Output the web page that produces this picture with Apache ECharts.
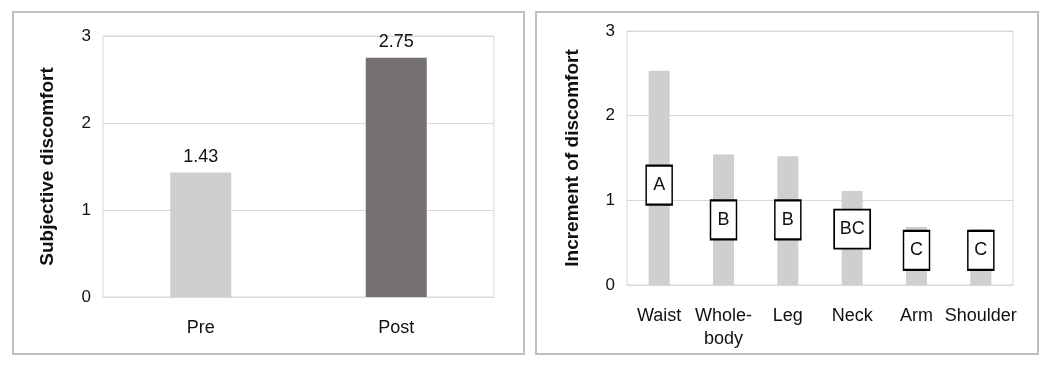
<!DOCTYPE html>
<html>
<head>
<meta charset="utf-8">
<script src="https://cdn.jsdelivr.net/npm/echarts@6/dist/echarts.min.js"></script>
<style>
html,body{margin:0;padding:0;background:#fff;}
#chart{width:1053px;height:365px;}
</style>
</head>
<body>
<div id="chart"></div>
<script>
// Left panel data
const leftCategories = ['Pre', 'Post'];
const leftValues = [1.43, 2.75];
const leftLabels = ['1.43', '2.75'];
// Right panel data
const rightCategories = ['Waist', 'Whole-\nbody', 'Leg', 'Neck', 'Arm', 'Shoulder'];
const rightValues = [2.53, 1.54, 1.52, 1.11, 0.685, 0.66];
const groupLetters = ['A', 'B', 'B', 'BC', 'C', 'C'];
const letterY = [1.18, 0.77, 0.77, 0.66, 0.41, 0.41];
const yTicks = [0, 1, 2, 3];

const FONT = "'Liberation Sans', Arial, sans-serif";
const TXT = '#111';
const GRID_C = '#d9d9d9';

const chart = echarts.init(document.getElementById('chart'), null, {renderer: 'canvas'});

function yAxisCfg(gridIndex, name, gap) {
  return {
    type: 'value', gridIndex: gridIndex, min: yTicks[0], max: yTicks[yTicks.length - 1], interval: 1,
    name: name, nameLocation: 'middle', nameGap: gap, nameRotate: 90,
    nameTextStyle: {fontFamily: FONT, fontSize: 19, fontWeight: 'bold', color: TXT},
    axisLine: {show: false}, axisTick: {show: false},
    axisLabel: {fontFamily: FONT, fontSize: 17, color: TXT, margin: 12},
    splitLine: {show: true, lineStyle: {color: GRID_C, width: 1}}
  };
}

chart.setOption({
  animation: false,
  backgroundColor: '#fff',
  graphic: [
    {type: 'rect', shape: {x: 13, y: 12, width: 511, height: 342}, style: {fill: 'none', stroke: '#bfbfbf', lineWidth: 2}, z: 100},
    {type: 'rect', shape: {x: 536, y: 12, width: 502, height: 342}, style: {fill: 'none', stroke: '#bfbfbf', lineWidth: 2}, z: 100}
  ],
  grid: [
    {left: 103, top: 36, width: 391, height: 261, show: true, borderColor: GRID_C, borderWidth: 1, containLabel: false},
    {left: 627, top: 31, width: 386, height: 254, show: true, borderColor: GRID_C, borderWidth: 1, containLabel: false}
  ],
  xAxis: [
    {
      type: 'category', gridIndex: 0, data: leftCategories,
      axisLine: {show: true, lineStyle: {color: GRID_C}}, axisTick: {show: false},
      axisLabel: {fontFamily: FONT, fontSize: 18, color: TXT, margin: 22, interval: 0}
    },
    {
      type: 'category', gridIndex: 1, data: rightCategories,
      axisLine: {show: true, lineStyle: {color: GRID_C}}, axisTick: {show: false},
      axisLabel: {fontFamily: FONT, fontSize: 18, color: TXT, margin: 20, interval: 0, lineHeight: 23, hideOverlap: false}
    }
  ],
  yAxis: [
    yAxisCfg(0, 'Subjective discomfort', 46),
    yAxisCfg(1, 'Increment of discomfort', 45)
  ],
  series: [
    {
      type: 'bar', xAxisIndex: 0, yAxisIndex: 0, barWidth: 61,
      data: leftValues.map((v, i) => ({value: v, itemStyle: {color: i === 0 ? '#cfcdcd' : '#767171'}})),
      label: {show: true, position: 'top', distance: 7, fontFamily: FONT, fontSize: 18, color: TXT,
        formatter: p => leftLabels[p.dataIndex]}
    },
    {
      type: 'bar', xAxisIndex: 1, yAxisIndex: 1, barWidth: 21,
      itemStyle: {color: '#d0cece'},
      data: rightValues
    },
    {
      type: 'scatter', xAxisIndex: 1, yAxisIndex: 1, z: 5,
      symbol: 'rect',
      symbolSize: (val, p) => groupLetters[p.dataIndex].length > 1 ? [36, 39] : [26, 39],
      itemStyle: {color: '#fff', borderColor: '#000', borderWidth: 1.8, opacity: 1},
      label: {show: true, position: 'inside', fontFamily: FONT, fontSize: 18, color: TXT,
        formatter: p => groupLetters[p.dataIndex]},
      emphasis: {disabled: true},
      data: letterY.map((y, i) => [i, y])
    }
  ]
});
</script>
</body>
</html>
